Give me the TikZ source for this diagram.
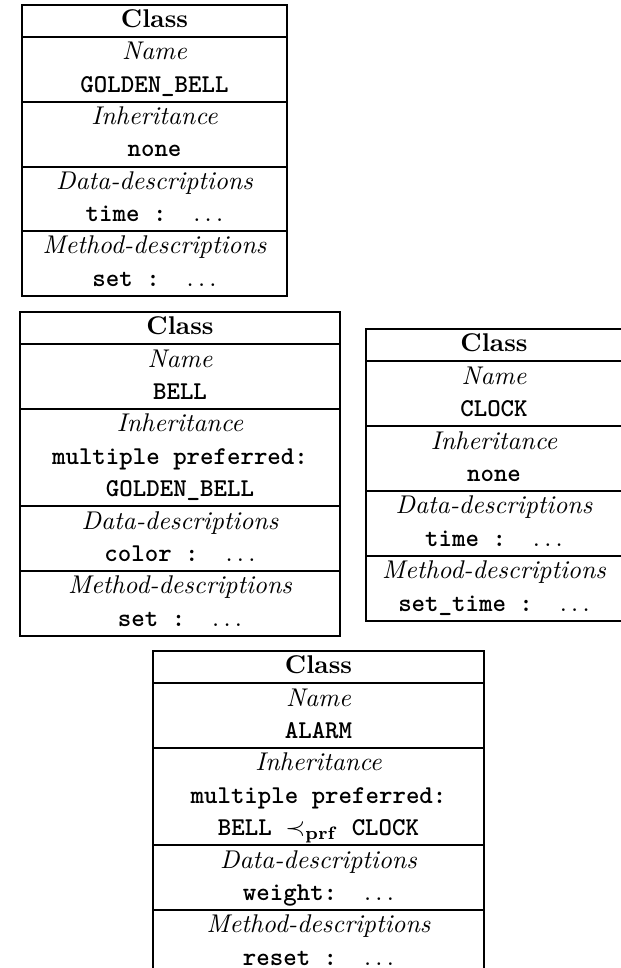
\documentclass[tikz,border=0pt]{standalone}
\begin{document}
\begin{tikzpicture}[x=0.39pt,y=-0.39pt,
  frame/.style={draw, line width=0.75pt},
  hd/.style={anchor=base, font=\bfseries, inner sep=0pt},
  lab/.style={anchor=base, font=\itshape, inner sep=0pt},
  val/.style={anchor=base, font=\ttfamily\bfseries, inner sep=0pt}]
\useasboundingbox (0,0) rectangle (621,968);
\clip (0,0) rectangle (621,968);
% ---------------- Box 1: GOLDEN_BELL
\def\T{5}\def\h{32.33}\def\cx{154.5}
\draw[frame] (22,\T) rectangle (287,{\T+9*\h});
\foreach \k in {1,3,5,7} \draw[frame] (22,{\T+\k*\h}) -- (287,{\T+\k*\h});
\node[hd]  (a0) at (\cx,{\T+0.7*\h}) {Class};
\node[lab] (a1) at (\cx,{\T+1.7*\h}) {Name};
\node[val] (a2) at (\cx,{\T+2.7*\h}) {GOLDEN\_BELL};
\node[lab] (a3) at (\cx,{\T+3.7*\h}) {Inheritance};
\node[val] (a4) at (\cx,{\T+4.7*\h}) {none};
\node[lab] (a5) at (\cx,{\T+5.7*\h}) {Data-descriptions};
\node[val] (a6) at (\cx,{\T+6.7*\h}) {time :~~$\ldots$};
\node[lab] (a7) at (\cx,{\T+7.7*\h}) {Method-descriptions};
\node[val] (a8) at (\cx,{\T+8.7*\h}) {set :~~$\ldots$};
% ---------------- Box 2: BELL
\def\T{312}\def\h{32.4}\def\cx{180}
\draw[frame] (20,\T) rectangle (340,{\T+10*\h});
\foreach \k in {1,3,6,8} \draw[frame] (20,{\T+\k*\h}) -- (340,{\T+\k*\h});
\node[hd]  (b0) at (\cx,{\T+0.7*\h}) {Class};
\node[lab] (b1) at (\cx,{\T+1.7*\h}) {Name};
\node[val] (b2) at (\cx,{\T+2.7*\h}) {BELL};
\node[lab] (b3) at (\cx,{\T+3.7*\h}) {Inheritance};
\node[val] (b4) at (\cx,{\T+4.7*\h}) {multiple preferred:};
\node[val] (b5) at (\cx,{\T+5.7*\h}) {GOLDEN\_BELL};
\node[lab] (b6) at (\cx,{\T+6.7*\h}) {Data-descriptions};
\node[val] (b7) at (\cx,{\T+7.7*\h}) {color :~~$\ldots$};
\node[lab] (b8) at (\cx,{\T+8.7*\h}) {Method-descriptions};
\node[val] (b9) at (\cx,{\T+9.7*\h}) {set :~~$\ldots$};
% ---------------- Box 3: CLOCK
\def\T{329}\def\h{32.44}\def\cx{494}
\draw[frame] (366,\T) rectangle (624,{\T+9*\h});
\foreach \k in {1,3,5,7} \draw[frame] (366,{\T+\k*\h}) -- (624,{\T+\k*\h});
\node[hd]  (c0) at (\cx,{\T+0.7*\h}) {Class};
\node[lab] (c1) at (\cx,{\T+1.7*\h}) {Name};
\node[val] (c2) at (\cx,{\T+2.7*\h}) {CLOCK};
\node[lab] (c3) at (\cx,{\T+3.7*\h}) {Inheritance};
\node[val] (c4) at (\cx,{\T+4.7*\h}) {none};
\node[lab] (c5) at (\cx,{\T+5.7*\h}) {Data-descriptions};
\node[val] (c6) at (\cx,{\T+6.7*\h}) {time :~~$\ldots$};
\node[lab] (c7) at (\cx,{\T+7.7*\h}) {Method-descriptions};
\node[val] (c8) at (\cx,{\T+8.7*\h}) {set\_time :~~$\ldots$};
% ---------------- Box 4: ALARM
\def\T{651}\def\h{32.4}\def\cx{318.5}
\draw[frame] (153,\T) rectangle (484,{\T+10*\h});
\foreach \k in {1,3,6,8} \draw[frame] (153,{\T+\k*\h}) -- (484,{\T+\k*\h});
\node[hd]  (d0) at (\cx,{\T+0.7*\h}) {Class};
\node[lab] (d1) at (\cx,{\T+1.7*\h}) {Name};
\node[val] (d2) at (\cx,{\T+2.7*\h}) {ALARM};
\node[lab] (d3) at (\cx,{\T+3.7*\h}) {Inheritance};
\node[val] (d4) at (\cx,{\T+4.7*\h}) {multiple preferred:};
\node[val] (d5) at (\cx,{\T+5.7*\h}) {BELL $\prec_{\mathbf{prf}}$ CLOCK};
\node[lab] (d6) at (\cx,{\T+6.7*\h}) {Data-descriptions};
\node[val] (d7) at (\cx,{\T+7.7*\h}) {weight:~~$\ldots$};
\node[lab] (d8) at (\cx,{\T+8.7*\h}) {Method-descriptions};
\node[val] (d9) at (\cx,{\T+9.7*\h}) {reset :~~$\ldots$};
\end{tikzpicture}
\end{document}
